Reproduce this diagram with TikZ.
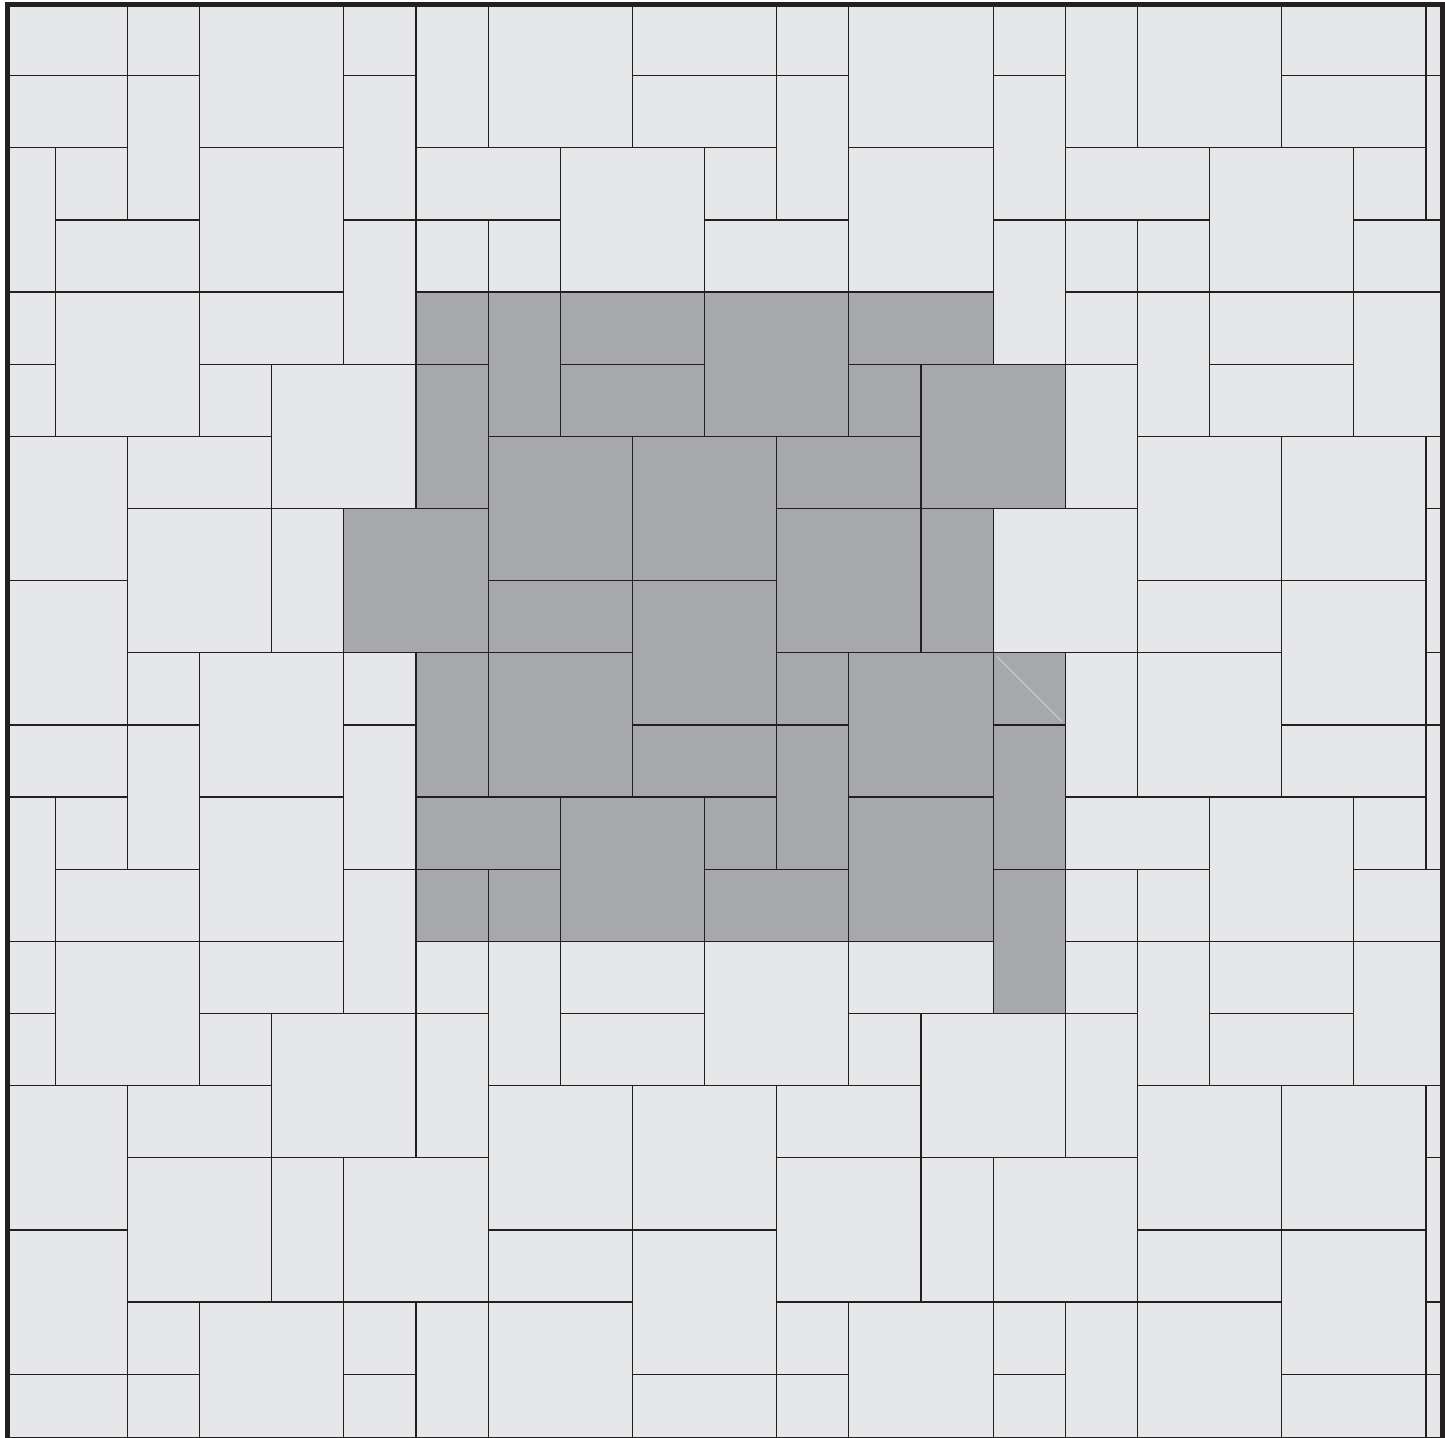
\documentclass[tikz,border=0pt]{standalone}
\usepackage{tikz}
\usetikzlibrary{positioning}
\tikzset{>=stealth}
\definecolor{paverline}{HTML}{231F20}
\definecolor{paverlight}{HTML}{E6E7E9}
\definecolor{paverdark}{HTML}{A7A8AB}
\tikzset{
  darkpaver/.style={fill=paverdark},
  paveredge/.style={draw=paverline, line width=0.5pt}
}
\newcommand{\paverrects}[2]{%
({6+#1}, {4+#2}) rectangle ({7+#1}, {5+#2})
({7+#1}, {4+#2}) rectangle ({8+#1}, {6+#2})
({8+#1}, {4+#2}) rectangle ({10+#1}, {5+#2})
({8+#1}, {5+#2}) rectangle ({10+#1}, {6+#2})
({10+#1}, {4+#2}) rectangle ({12+#1}, {6+#2})
({12+#1}, {4+#2}) rectangle ({14+#1}, {5+#2})
({12+#1}, {5+#2}) rectangle ({13+#1}, {6+#2})
({13+#1}, {5+#2}) rectangle ({15+#1}, {7+#2})
({6+#1}, {5+#2}) rectangle ({7+#1}, {7+#2})
({7+#1}, {6+#2}) rectangle ({9+#1}, {8+#2})
({9+#1}, {6+#2}) rectangle ({11+#1}, {8+#2})
({11+#1}, {6+#2}) rectangle ({13+#1}, {7+#2})
({5+#1}, {7+#2}) rectangle ({7+#1}, {9+#2})
({11+#1}, {7+#2}) rectangle ({13+#1}, {9+#2})
({13+#1}, {7+#2}) rectangle ({14+#1}, {9+#2})
({7+#1}, {8+#2}) rectangle ({9+#1}, {9+#2})
({9+#1}, {8+#2}) rectangle ({11+#1}, {10+#2})
({6+#1}, {9+#2}) rectangle ({7+#1}, {11+#2})
({7+#1}, {9+#2}) rectangle ({9+#1}, {11+#2})
({11+#1}, {9+#2}) rectangle ({12+#1}, {10+#2})
({12+#1}, {9+#2}) rectangle ({14+#1}, {11+#2})
({14+#1}, {9+#2}) rectangle ({15+#1}, {10+#2})
({9+#1}, {10+#2}) rectangle ({11+#1}, {11+#2})
({11+#1}, {10+#2}) rectangle ({12+#1}, {12+#2})
({14+#1}, {10+#2}) rectangle ({15+#1}, {12+#2})
({6+#1}, {11+#2}) rectangle ({8+#1}, {12+#2})
({8+#1}, {11+#2}) rectangle ({10+#1}, {13+#2})
({10+#1}, {11+#2}) rectangle ({11+#1}, {12+#2})
({12+#1}, {11+#2}) rectangle ({14+#1}, {13+#2})
({6+#1}, {12+#2}) rectangle ({7+#1}, {13+#2})
({7+#1}, {12+#2}) rectangle ({8+#1}, {13+#2})
({10+#1}, {12+#2}) rectangle ({12+#1}, {13+#2})
({14+#1}, {12+#2}) rectangle ({15+#1}, {14+#2})
}
\begin{document}
\begin{tikzpicture}[x=1cm, y=-1cm, inner sep=0pt, outer sep=0pt]
\useasboundingbox (0.2335, -0.0485) rectangle (20.264, 19.871);
\begin{scope}
\clip (0.3374, 0.014) rectangle (20.225, 19.90);
\fill[paverlight] (0, 0) rectangle (21, 20);
\fill[darkpaver] \paverrects{0}{0};
\draw[white!55!paverdark, line width=0.3pt] (14.05, 9.05) -- (14.95, 9.95);
\draw[paveredge]
  \paverrects{-9}{-9} \paverrects{0}{-9} \paverrects{9}{-9}
  \paverrects{-9}{0} \paverrects{0}{0} \paverrects{9}{0}
  \paverrects{-9}{9} \paverrects{0}{9} \paverrects{9}{9};
\end{scope}
\draw[paverline, line width=2pt] (0.3374, 0.014) rectangle (20.225, 19.90);
\end{tikzpicture}
\end{document}
